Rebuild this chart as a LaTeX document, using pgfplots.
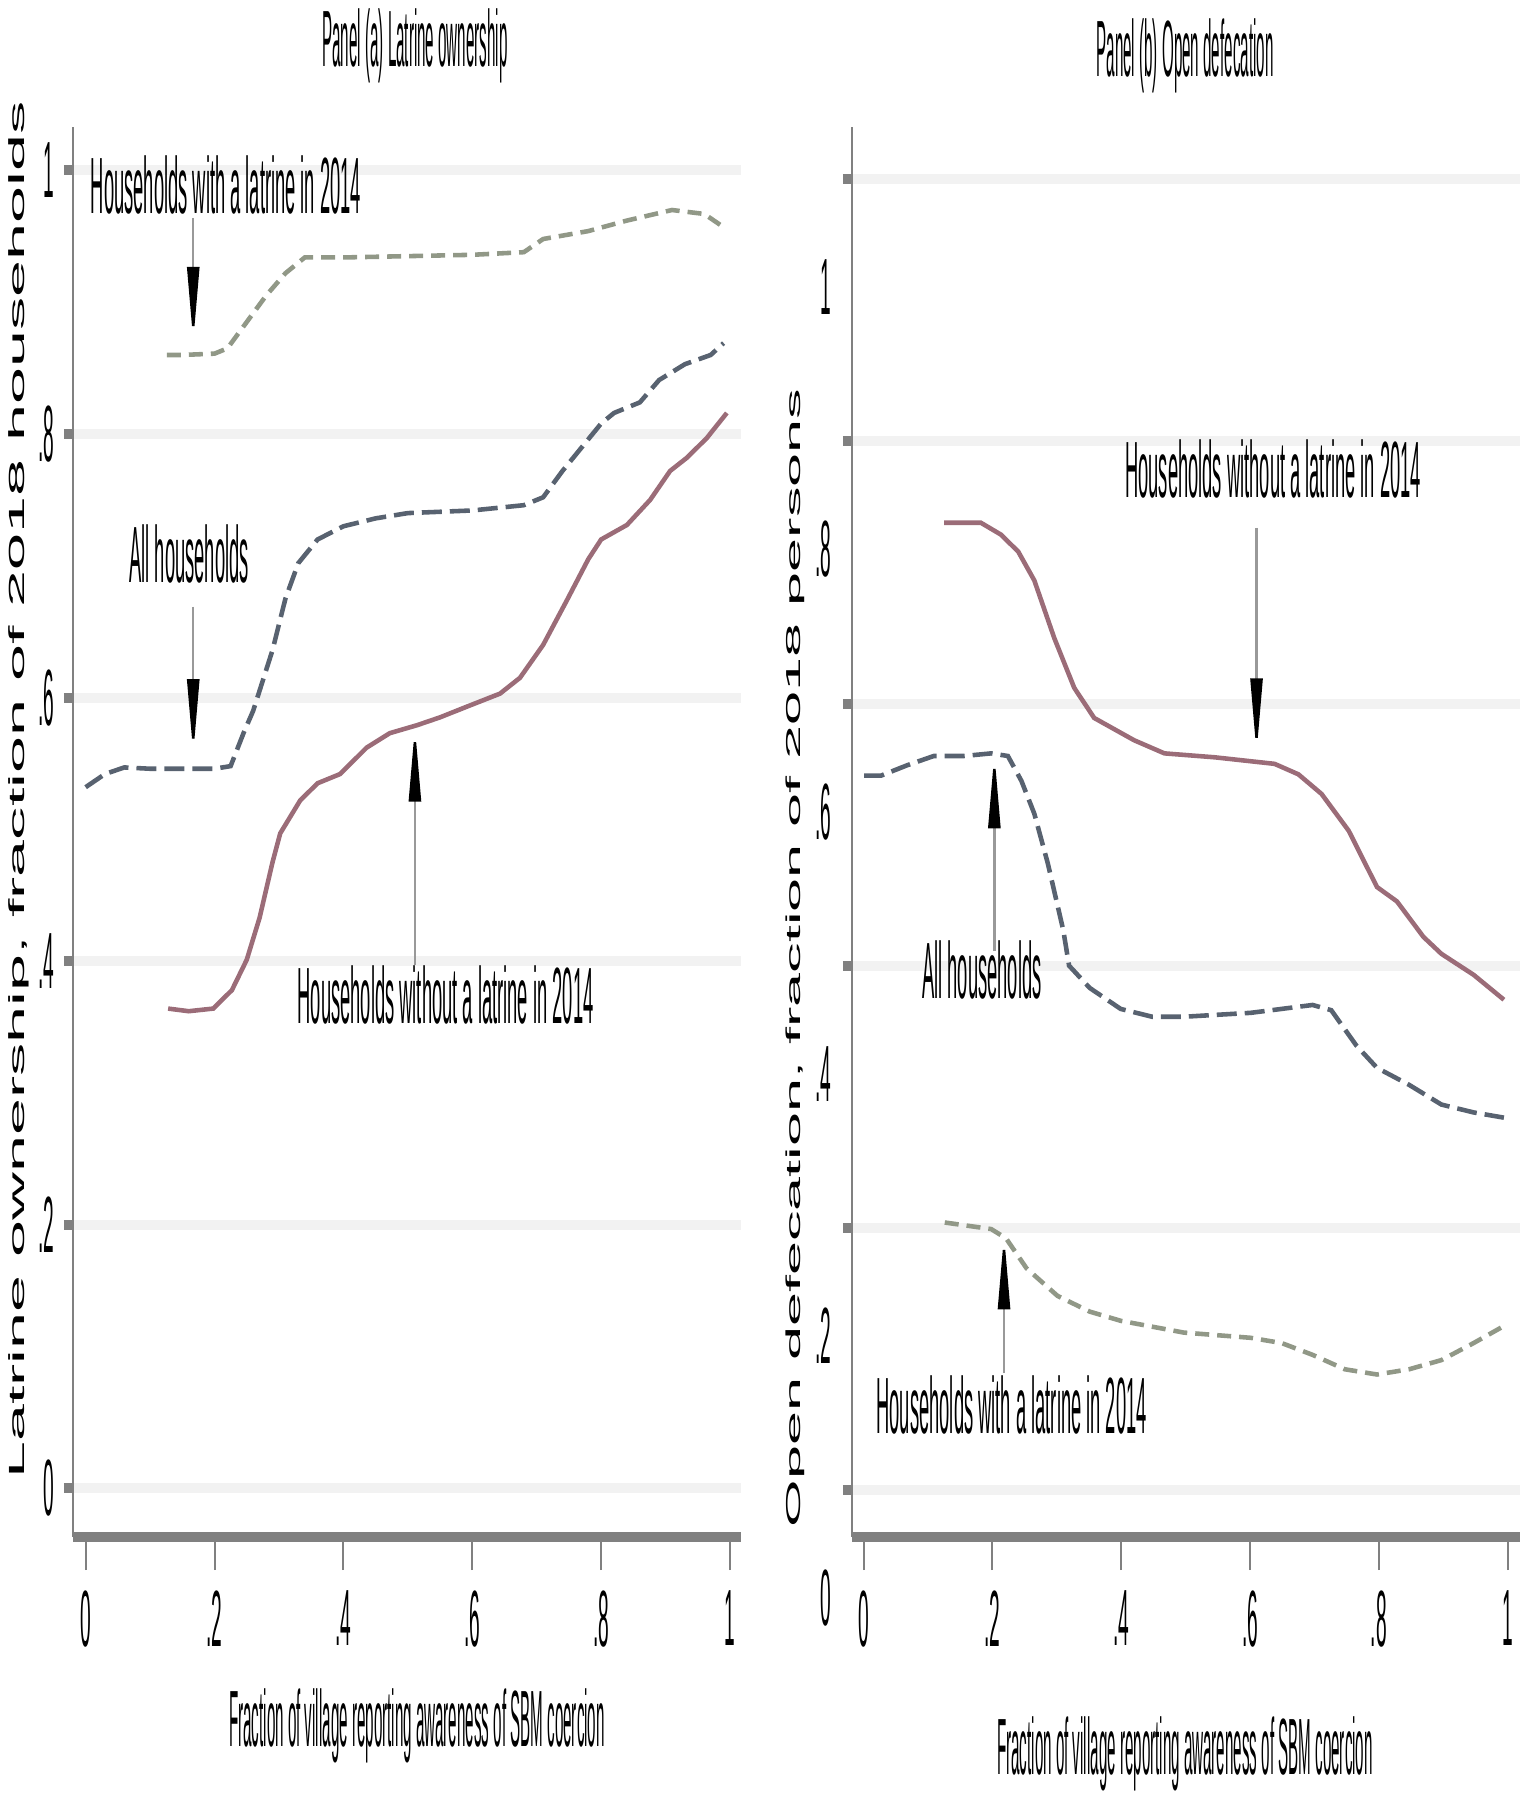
\documentclass[border=0pt]{standalone}
\usepackage{pgfplots}
\pgfplotsset{compat=1.18}
\usepackage{fontspec}
\setmainfont{Liberation Sans}
\newfontfamily\cond[FakeStretch=0.19]{Liberation Sans}
\newfontfamily\condann[FakeStretch=0.23]{Liberation Sans}
\newfontfamily\condnum[FakeStretch=0.24]{Liberation Sans}
\newfontfamily\plainsans{Liberation Sans}
\usetikzlibrary{arrows.meta}
\definecolor{cred}{RGB}{155,108,120}
\definecolor{cblue}{RGB}{88,98,112}
\definecolor{cgreen}{RGB}{145,152,135}
\definecolor{gridgray}{RGB}{242,242,242}
\definecolor{axgray}{RGB}{128,128,128}
\newcommand{\bigf}{\fontsize{22.7}{26}\selectfont}
\tikzset{
  ann/.style={font=\condann\bigf, inner sep=0pt, anchor=base west},
  arr/.style={draw=axgray!80, line width=0.25mm, -{Triangle[length=7.5mm,width=1.2mm,color=black,fill=black]}},
}
\pgfplotsset{
  panel/.style={
    scale only axis, width=66.8mm, height=141mm, anchor=south west,
    axis x line=bottom, axis y line=left, axis line style={-},
    x axis line style={line width=1mm, color=axgray},
    y axis line style={line width=0.2mm, color=axgray},
    xtick={0,0.2,0.4,0.6,0.8,1}, xticklabels={0,.2,.4,.6,.8,1},
    ytick={0,0.2,0.4,0.6,0.8,1}, yticklabels={0,.2,.4,.6,.8,1},
    tick align=outside, major tick length=3.3mm,
    xtick style={line width=0.2mm, color=axgray},
    ytick style={line width=1mm, color=axgray, dash pattern=on 0.9mm off 2.4mm, dash phase=0.9mm},
    ymajorgrids, grid style={line width=1mm, color=gridgray},
    tick label style={font=\condnum\bigf},
    xticklabel style={inner sep=0pt, anchor=north, yshift=-2mm},
    /pgf/number format/assume math mode=true,
    clip=false,
  },
}
\begin{document}
\begin{tikzpicture}
\useasboundingbox (0,0) rectangle (153.3mm,180mm);
% ---------------- Panel (a)
\begin{axis}[panel, at={(7.3mm,26.3mm)},
  xmin=-0.0196, xmax=1.017, ymin=-0.037, ymax=1.033,
  yticklabel style={inner sep=0pt, anchor=east, xshift=1.5mm}]
\addplot[cgreen, line width=1.3pt, dash pattern=on 1.4mm off 0.8mm] table {
0.126 0.860
0.15 0.860
0.20 0.861
0.22 0.865
0.25 0.885
0.28 0.905
0.31 0.922
0.34 0.934
0.40 0.934
0.50 0.935
0.60 0.936
0.68 0.938
0.71 0.948
0.78 0.954
0.84 0.962
0.91 0.970
0.96 0.967
0.99 0.957
};
\addplot[cblue, line width=1.3pt, dash pattern=on 2mm off 0.8mm] table {
0.00 0.532
0.03 0.542
0.06 0.547
0.10 0.546
0.15 0.546
0.20 0.546
0.225 0.548
0.245 0.573
0.26 0.590
0.29 0.636
0.31 0.675
0.33 0.702
0.36 0.720
0.40 0.730
0.45 0.736
0.50 0.740
0.60 0.742
0.68 0.746
0.71 0.752
0.74 0.772
0.80 0.808
0.82 0.816
0.86 0.824
0.89 0.841
0.93 0.853
0.97 0.860
0.99 0.869
};
\addplot[cred, line width=1.3pt] table {
0.128 0.364
0.16 0.362
0.198 0.364
0.227 0.378
0.25 0.401
0.27 0.433
0.29 0.475
0.302 0.497
0.333 0.522
0.36 0.535
0.395 0.542
0.436 0.562
0.472 0.573
0.514 0.579
0.55 0.585
0.591 0.593
0.643 0.603
0.674 0.615
0.71 0.640
0.747 0.674
0.78 0.705
0.80 0.720
0.84 0.731
0.876 0.750
0.907 0.772
0.933 0.782
0.964 0.797
0.995 0.816
};
\node[ann] at (axis cs:0.007,0.967) {Households with a latrine in 2014};
\node[ann] at (axis cs:0.067,0.687) {All households};
\node[ann] at (axis cs:0.328,0.353) {Households without a latrine in 2014};
\draw[arr] (axis cs:0.167,0.964) -- (axis cs:0.167,0.870);
\draw[arr] (axis cs:0.167,0.669) -- (axis cs:0.167,0.557);
\draw[arr] (axis cs:0.511,0.397) -- (axis cs:0.511,0.578);
\end{axis}
% ---------------- Panel (b)
\begin{axis}[panel, at={(85.2mm,26.3mm)},
  xmin=-0.018, xmax=1.019, ymin=-0.036, ymax=1.040,
  yticklabel style={inner sep=0pt, anchor=east, xshift=1.3mm, yshift=-10.8mm}]
\addplot[cred, line width=1.3pt] table {
0.125 0.738
0.182 0.738
0.213 0.729
0.24 0.716
0.265 0.694
0.296 0.650
0.327 0.612
0.358 0.589
0.42 0.572
0.467 0.562
0.545 0.559
0.638 0.554
0.675 0.546
0.711 0.531
0.753 0.503
0.797 0.460
0.828 0.449
0.869 0.422
0.897 0.409
0.947 0.393
0.994 0.374
};
\addplot[cblue, line width=1.3pt, dash pattern=on 2mm off 0.8mm] table {
0.001 0.545
0.027 0.545
0.068 0.553
0.109 0.560
0.156 0.560
0.198 0.562
0.224 0.560
0.245 0.541
0.265 0.516
0.286 0.478
0.31 0.427
0.319 0.400
0.351 0.383
0.399 0.367
0.448 0.361
0.497 0.361
0.601 0.364
0.649 0.367
0.697 0.370
0.726 0.366
0.765 0.339
0.797 0.322
0.847 0.309
0.897 0.294
0.947 0.288
0.994 0.284
};
\addplot[cgreen, line width=1.3pt, dash pattern=on 1.4mm off 0.8mm] table {
0.126 0.204
0.198 0.199
0.221 0.192
0.253 0.169
0.301 0.148
0.351 0.136
0.399 0.129
0.497 0.120
0.601 0.116
0.649 0.112
0.697 0.103
0.747 0.092
0.797 0.088
0.847 0.092
0.897 0.099
0.947 0.112
0.994 0.125
};
\node[ann] at (axis cs:0.405,0.757) {Households without a latrine in 2014};
\node[ann] at (axis cs:0.09,0.375) {All households};
\node[ann] at (axis cs:0.019,0.043) {Households with a latrine in 2014};
\draw[arr] (axis cs:0.61,0.734) -- (axis cs:0.61,0.562);
\draw[arr] (axis cs:0.203,0.411) -- (axis cs:0.203,0.562);
\draw[arr] (axis cs:0.218,0.089) -- (axis cs:0.218,0.195);
\end{axis}
% ---------------- titles and axis titles
\node[font=\cond\bigf, inner sep=0pt, anchor=base] at (41.5mm,173.3mm) {Panel (a) Latrine ownership};
\node[font=\cond\bigf, inner sep=0pt, anchor=base] at (118.5mm,172.3mm) {Panel (b) Open defecation};
\node[font=\cond\bigf, inner sep=0pt, anchor=base] at (41.7mm,5.3mm) {Fraction of village reporting awareness of SBM coercion};
\node[font=\cond\bigf, inner sep=0pt, anchor=base] at (118.5mm,2.5mm) {Fraction of village reporting awareness of SBM coercion};
\node[rotate=90, inner sep=0pt] at (1.9mm,101mm) {\scalebox{1}[0.33]{\plainsans\fontsize{18.9}{22}\selectfont Latrine ownership, fraction of 2018 households}};
\node[rotate=90, inner sep=0pt] at (79.5mm,84.2mm) {\scalebox{1}[0.33]{\plainsans\fontsize{17.4}{20}\selectfont Open defecation, fraction of 2018 persons}};
\end{tikzpicture}
\end{document}
